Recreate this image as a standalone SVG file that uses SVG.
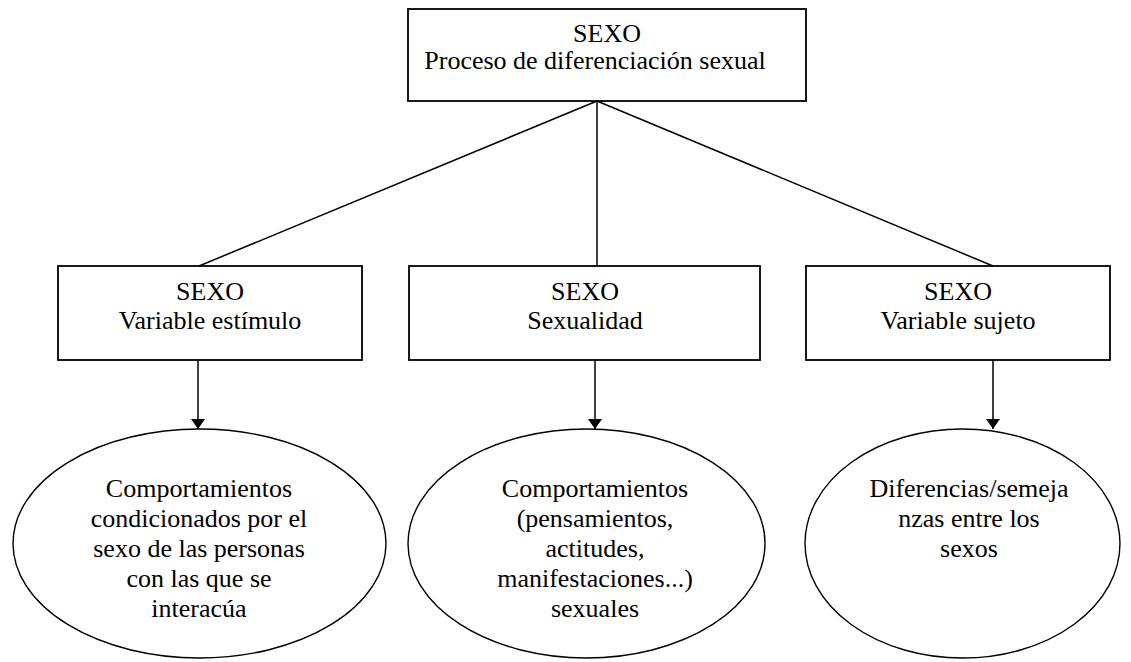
<svg xmlns="http://www.w3.org/2000/svg" width="1131" height="662" viewBox="0 0 1131 662">
<defs>
<marker id="arr" viewBox="0 0 10 14" refX="10" refY="7" markerWidth="10" markerHeight="14" markerUnits="userSpaceOnUse" orient="auto">
<path d="M0,0 L10,7 L0,14 Z" fill="#000"/>
</marker>
<style>
.box{fill:#fff;stroke:#000;stroke-width:1.8}
.ell{fill:#fff;stroke:#000;stroke-width:1.4}
.ln{stroke:#000;stroke-width:1.5;fill:none}
.t{font-family:"Liberation Serif","Times New Roman",serif;font-size:26px;fill:#000;text-anchor:middle}
</style>
</defs>
<rect width="1131" height="662" fill="#fff"/>
<g id="connectors">
<line class="ln" x1="597" y1="101" x2="199" y2="266"/>
<line class="ln" x1="597" y1="101" x2="597" y2="266"/>
<line class="ln" x1="597" y1="101" x2="993" y2="266"/>
<line class="ln" x1="198" y1="360" x2="198" y2="429" marker-end="url(#arr)"/>
<line class="ln" x1="595" y1="360" x2="595" y2="429" marker-end="url(#arr)"/>
<line class="ln" x1="993" y1="360" x2="993" y2="429" marker-end="url(#arr)"/>
</g>
<g id="top">
<rect class="box" x="408" y="9" width="398" height="92"/>
<text class="t" x="607" y="42">SEXO</text>
<text class="t" x="595" y="69" font-size="27">Proceso de diferenciación sexual</text>
</g>
<g id="estimulo">
<rect class="box" x="58" y="266" width="304" height="94"/>
<text class="t" x="210" y="300">SEXO</text>
<text class="t" x="210" y="329">Variable estímulo</text>
</g>
<g id="sexualidad">
<rect class="box" x="409" y="266" width="351" height="94"/>
<text class="t" x="585" y="300">SEXO</text>
<text class="t" x="585" y="329">Sexualidad</text>
</g>
<g id="sujeto">
<rect class="box" x="806" y="266" width="304" height="94"/>
<text class="t" x="958" y="300">SEXO</text>
<text class="t" x="958" y="329">Variable sujeto</text>
</g>
<g id="ell1">
<ellipse class="ell" cx="199.5" cy="543.5" rx="186.5" ry="114.5"/>
<text class="t" x="199" y="497">Comportamientos</text>
<text class="t" x="199" y="527">condicionados por el</text>
<text class="t" x="199" y="557">sexo de las personas</text>
<text class="t" x="199" y="587">con las que se</text>
<text class="t" x="199" y="617">interacúa</text>
</g>
<g id="ell2">
<ellipse class="ell" cx="586.5" cy="543.5" rx="178.5" ry="114.5"/>
<text class="t" x="595" y="497">Comportamientos</text>
<text class="t" x="595" y="527">(pensamientos,</text>
<text class="t" x="595" y="557">actitudes,</text>
<text class="t" x="595" y="587">manifestaciones...)</text>
<text class="t" x="595" y="617">sexuales</text>
</g>
<g id="ell3">
<ellipse class="ell" cx="962.5" cy="543.5" rx="157.5" ry="114.5"/>
<text class="t" x="969" y="497">Diferencias/semeja</text>
<text class="t" x="969" y="527">nzas entre los</text>
<text class="t" x="969" y="557">sexos</text>
</g>
</svg>
